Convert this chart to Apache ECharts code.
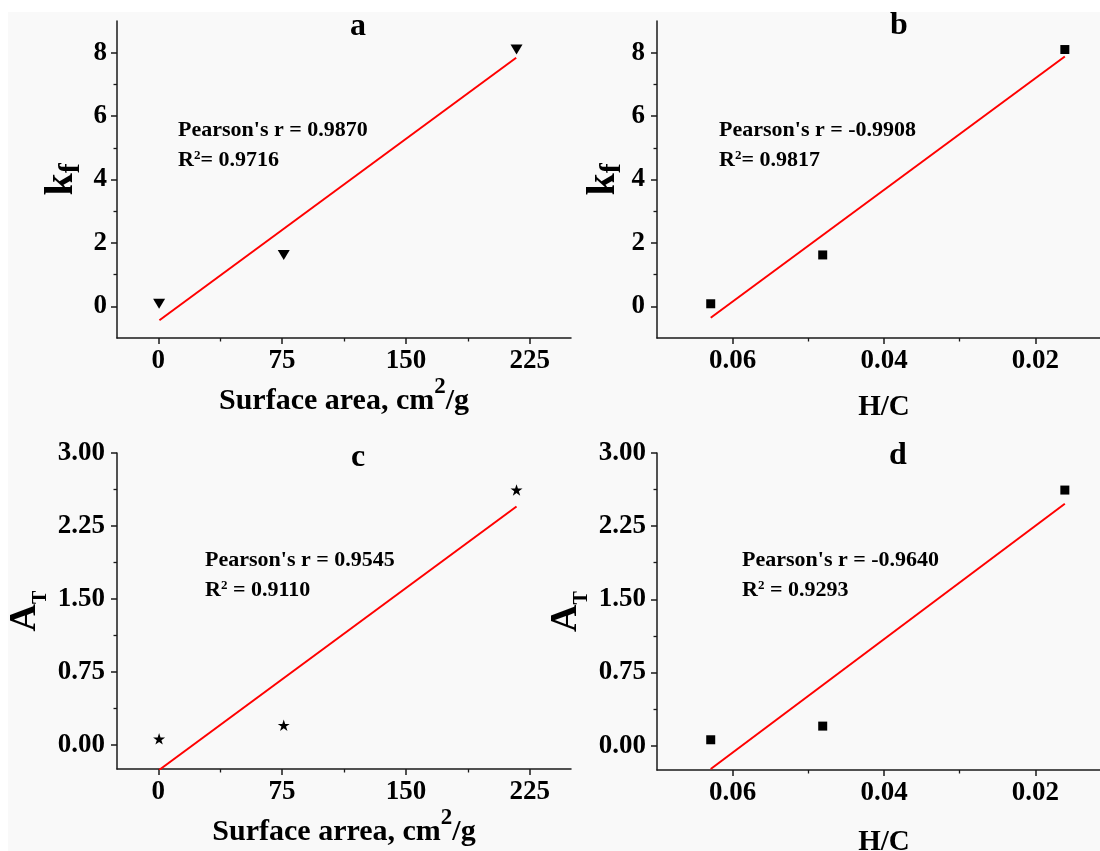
<!DOCTYPE html>
<html><head><meta charset="utf-8">
<script src="https://cdn.jsdelivr.net/npm/echarts@6/dist/echarts.min.js"></script>
<style>html,body{margin:0;padding:0;background:#fff;}#c{width:1100px;height:851px;}</style>
</head><body><div id="c"></div>
<script>
// ---------- data ----------
const surfaceArea = [0.5, 76, 217];          // cm2/g
const hcRatio = [0.0629, 0.0481, 0.0161];    // H/C
const kfValues = [0.08, 1.62, 8.10];         // kf
const atValues = [0.06, 0.20, 2.62];         // A_T
// fitted lines (end points)
const fitAx = [0.7, 216.8];   const fitAy = [-0.44, 7.84];
const fitBx = [0.0629, 0.0161]; const fitBy = [-0.36, 7.88];
const fitCx = [0.5, 217];     const fitCy = [-0.26, 2.45];
const fitDx = [0.0629, 0.0161]; const fitDy = [-0.24, 2.48];
// tick labels
const saTicks = [0, 75, 150, 225];      const saMinor = [37.5, 112.5, 187.5];
const hcTicks = [0.02, 0.04, 0.06];     const hcMinor = [0.03, 0.05];
const kfTicks = [0, 2, 4, 6, 8];        const kfMinor = [1, 3, 5, 7];
const atTicks = [0, 0.75, 1.5, 2.25, 3]; const atMinor = [0.375, 1.125, 1.875, 2.625];
// texts
const panelLetters = ['a', 'b', 'c', 'd'];
const pearsonLabels = ["Pearson's r = 0.9870", "Pearson's r = -0.9908", "Pearson's r = 0.9545", "Pearson's r = -0.9640"];
const r2Labels = ['= 0.9716', '= 0.9817', ' = 0.9110', ' = 0.9293'];

// ---------- styling ----------
const FONT = "'Liberation Serif','Times New Roman',serif";
const AX = '#1a1a1a';
function tok(size, extra) {
  return Object.assign({fontSize: size, fontWeight: 'bold', fontFamily: FONT, color: '#000', lineHeight: size}, extra || {});
}
const xRich = {n: tok(30, {verticalAlign: 'bottom', lineHeight: 40}), s: tok(23, {verticalAlign: 'top', lineHeight: 23})};
const kRich = {k: tok(40, {verticalAlign: 'bottom', padding: [0, 0, 4, 0]}), f: tok(30, {verticalAlign: 'bottom'})};
const aRich = {a: tok(38, {verticalAlign: 'bottom', padding: [0, 0, 7, 0]}), t: tok(20, {verticalAlign: 'bottom'})};
const hcName = {fontSize: 29, fontWeight: 'bold', fontFamily: FONT, color: '#000', lineHeight: 29};

const starPath = 'path://M0,-1L0.2245,-0.309L0.951,-0.309L0.363,0.118L0.588,0.809L0,0.382L-0.588,0.809L-0.363,0.118L-0.951,-0.309L-0.2245,-0.309Z';

const panels = [
  {grid: {left: 117, top: 21, width: 454, height: 317},
   x: {min: -25, max: 250, inverse: false, major: saTicks, minor: saMinor, dec: 0, name: '{n|Surface area, cm}{s|2}{n|/g}', gap: 30, style: {rich: xRich}},
   y: {min: -1, max: 9, major: kfTicks, minor: kfMinor, dec: 0, name: '{k|k}{f|f}', gap: 31, style: {rich: kRich}, margin: 10},
   xs: surfaceArea, ys: kfValues, symbol: 'triangle', size: [12, 10], rot: 180, fx: fitAx, fy: fitAy,
   title: [358, 27], ann: [178, 130]},
  {grid: {left: 657, top: 21, width: 454, height: 317},
   x: {min: 0.01, max: 0.07, inverse: true, major: hcTicks, minor: hcMinor, dec: 2, name: 'H/C', gap: 55, style: hcName},
   y: {min: -1, max: 9, major: kfTicks, minor: kfMinor, dec: 0, name: '{k|k}{f|f}', gap: 26, style: {rich: kRich}, margin: 12},
   xs: hcRatio, ys: kfValues, symbol: 'rect', size: 9, rot: 0, fx: fitBx, fy: fitBy,
   title: [899, 26], ann: [719, 130]},
  {grid: {left: 117, top: 453, width: 454, height: 316},
   x: {min: -25, max: 250, inverse: false, major: saTicks, minor: saMinor, dec: 0, name: '{n|Surface arrea, cm}{s|2}{n|/g}', gap: 36, style: {rich: xRich}},
   y: {min: -0.25, max: 3, major: atTicks, minor: atMinor, dec: 2, name: '{a|A}{t|T}', gap: 66, style: {rich: aRich}, margin: 12},
   xs: surfaceArea, ys: atValues, symbol: starPath, size: [12, 11.5], rot: 0, fx: fitCx, fy: fitCy,
   title: [358, 458], ann: [205, 560]},
  {grid: {left: 657, top: 453, width: 454, height: 317},
   x: {min: 0.01, max: 0.07, inverse: true, major: hcTicks, minor: hcMinor, dec: 2, name: 'H/C', gap: 58, style: hcName},
   y: {min: -0.25, max: 3, major: atTicks, minor: atMinor, dec: 2, name: '{a|A}{t|T}', gap: 65, style: {rich: aRich}, margin: 11},
   xs: hcRatio, ys: atValues, symbol: 'rect', size: 9, rot: 0, fx: fitDx, fy: fitDy,
   title: [898, 456], ann: [742, 560]}
];

const grids = [], xAxes = [], yAxes = [], series = [], graphics = [];
graphics.push({type: 'rect', z: -100, shape: {x: 8, y: 12, width: 1092, height: 839}, style: {fill: '#f9f9f9'}, silent: true});

const labelStyle = {fontSize: 27, fontWeight: 'bold', fontFamily: FONT, color: '#000', lineHeight: 27};

panels.forEach((p, i) => {
  grids.push(Object.assign({containLabel: false, outerBoundsMode: 'none'}, p.grid));
  const xd = p.x.dec, yd = p.y.dec;
  xAxes.push({type: 'value', gridIndex: i, position: 'bottom', min: p.x.min, max: p.x.max, inverse: p.x.inverse,
    splitLine: {show: false},
    axisLine: {show: true, onZero: false, lineStyle: {color: AX, width: 1.5}},
    axisTick: {show: true, inside: false, length: 6, customValues: p.x.major, lineStyle: {color: AX, width: 1.5}},
    axisLabel: Object.assign({show: true, margin: 10, customValues: p.x.major, formatter: v => Number(v).toFixed(xd)}, labelStyle),
    name: p.x.name, nameLocation: 'middle', nameGap: p.x.gap, nameTextStyle: p.x.style});
  xAxes.push({type: 'value', gridIndex: i, position: 'bottom', min: p.x.min, max: p.x.max, inverse: p.x.inverse,
    splitLine: {show: false}, axisLine: {show: false, onZero: false},
    axisTick: {show: true, inside: false, length: 3.5, customValues: p.x.minor, lineStyle: {color: AX, width: 1.3}},
    axisLabel: {show: false}});
  yAxes.push({type: 'value', gridIndex: i, position: 'left', min: p.y.min, max: p.y.max,
    splitLine: {show: false},
    axisLine: {show: true, onZero: false, lineStyle: {color: AX, width: 1.5}},
    axisTick: {show: true, inside: false, length: 6, customValues: p.y.major, lineStyle: {color: AX, width: 1.5}},
    axisLabel: Object.assign({show: true, margin: p.y.margin, customValues: p.y.major, formatter: v => Number(v).toFixed(yd)}, labelStyle),
    name: p.y.name, nameLocation: 'middle', nameRotate: 90, nameGap: p.y.gap, nameTextStyle: p.y.style});
  yAxes.push({type: 'value', gridIndex: i, position: 'left', min: p.y.min, max: p.y.max,
    splitLine: {show: false}, axisLine: {show: false, onZero: false},
    axisTick: {show: true, inside: false, length: 3.5, customValues: p.y.minor, lineStyle: {color: AX, width: 1.3}},
    axisLabel: {show: false}});
  series.push({type: 'line', xAxisIndex: 2 * i, yAxisIndex: 2 * i, showSymbol: false, symbol: 'none', clip: true,
    lineStyle: {color: '#ff0000', width: 2}, z: 3,
    data: p.fx.map((x, k) => [x, p.fy[k]])});
  series.push({type: 'scatter', xAxisIndex: 2 * i, yAxisIndex: 2 * i, symbol: p.symbol, symbolSize: p.size, symbolRotate: p.rot,
    itemStyle: {color: '#000', opacity: 1}, z: 4,
    data: p.xs.map((x, k) => [x, p.ys[k]])});
  graphics.push({type: 'text', x: p.title[0], y: p.title[1],
    style: {text: panelLetters[i], fontSize: 32, fontWeight: 'bold', fontFamily: FONT, fill: '#000', align: 'center', verticalAlign: 'middle'}});
  graphics.push({type: 'text', x: p.ann[0], y: p.ann[1],
    style: {text: pearsonLabels[i], fontSize: 22, fontWeight: 'bold', fontFamily: FONT, fill: '#000', align: 'left', verticalAlign: 'middle'}});
  graphics.push({type: 'text', x: p.ann[0], y: p.ann[1] + 30,
    style: {text: '{t|R}{s|2}{t|' + r2Labels[i] + '}', align: 'left', verticalAlign: 'middle',
      rich: {t: tok(22, {verticalAlign: 'bottom'}), s: tok(13, {verticalAlign: 'top'})}}});
});

const chart = echarts.init(document.getElementById('c'), null, {renderer: 'canvas'});
chart.setOption({animation: false, backgroundColor: 'transparent', grid: grids, xAxis: xAxes, yAxis: yAxes, series: series, graphic: graphics});
</script></body></html>
